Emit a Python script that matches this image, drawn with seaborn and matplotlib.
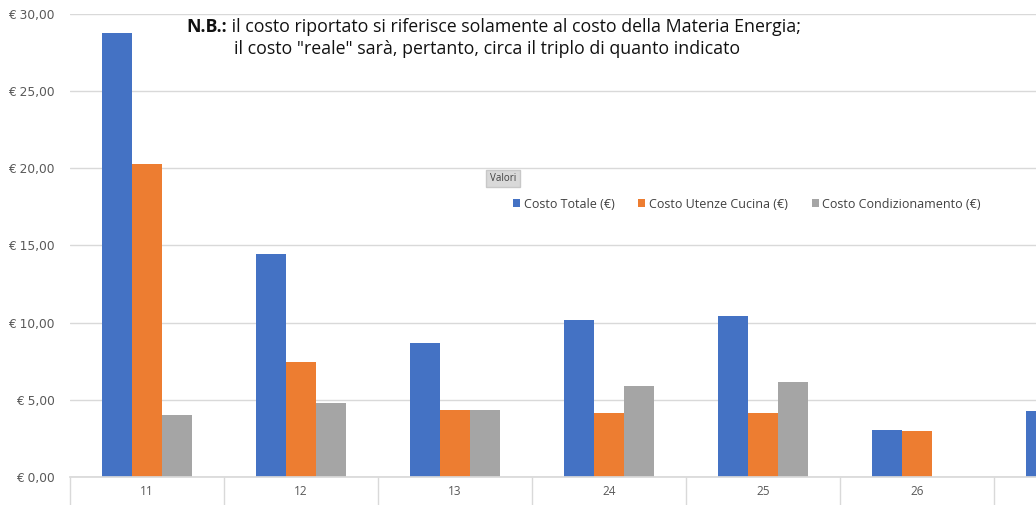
import numpy as np
import pandas as pd
import matplotlib
matplotlib.use("Agg")
import matplotlib.pyplot as plt
import seaborn as sns
from matplotlib.ticker import FuncFormatter

categories = ["11", "12", "13", "24", "25", "26", "27"]
costo_totale = [28.8, 14.45, 8.7, 10.2, 10.4, 3.05, 4.3]
costo_cucina = [20.25, 7.45, 4.35, 4.15, 4.15, 2.95, np.nan]
costo_condiz = [4.0, 4.8, 4.35, 5.9, 6.15, 0.0, np.nan]
series_names = ["Costo Totale (€)", "Costo Utenze Cucina (€)", "Costo Condizionamento (€)"]
colors = ["#4472C4", "#ED7D31", "#A5A5A5"]

rows = []
for name, vals in zip(series_names, [costo_totale, costo_cucina, costo_condiz]):
    for c, v in zip(categories, vals):
        rows.append({"Categoria": c, "Serie": name, "Valore": v})
df = pd.DataFrame(rows)

sns.set_theme(style="white")
plt.rcParams["font.family"] = ["Open Sans", "DejaVu Sans"]

fig = plt.figure(figsize=(10.36, 5.05), dpi=100)
W, H = 1036, 505
left_px, right_px, top_px, bot_px = 70, 1036, 14, 477
ax = fig.add_axes([left_px / W, 1 - bot_px / H, (right_px - left_px) / W, (bot_px - top_px) / H])

sns.barplot(data=df, x="Categoria", y="Valore", hue="Serie", order=categories,
            hue_order=series_names, palette=colors, width=0.58, saturation=1,
            errorbar=None, ax=ax, legend=True, linewidth=0)

ax.set_ylim(0, 30)
ax.set_yticks(np.arange(0, 31, 5))
ax.yaxis.set_major_formatter(FuncFormatter(lambda v, p: "€ " + f"{v:.2f}".replace(".", ",")))
ax.yaxis.grid(True, color="#D9D9D9", linewidth=1)
ax.set_axisbelow(True)
ax.set_xlabel("")
ax.set_ylabel("")
for s in ["top", "right", "left"]:
    ax.spines[s].set_visible(False)
ax.spines["bottom"].set_color("#D9D9D9")
ax.tick_params(axis="y", length=0, pad=11, labelsize=8.8, labelcolor="#595959")
for t in ax.get_yticklabels():
    t.set_fontfamily("DejaVu Sans")
ax.tick_params(axis="x", which="major", length=0, pad=6, labelsize=8.5, labelcolor="#595959")
ax.set_xticks(np.arange(-0.5, len(categories), 1), minor=True)
ax.tick_params(axis="x", which="minor", bottom=True, length=21, color="#D9D9D9", width=1)
slot = 154
ax.set_xlim(-0.5, -0.5 + (right_px - left_px) / slot)

handles, labels = ax.get_legend_handles_labels()
ax.legend(handles, labels, loc="center left", bbox_to_anchor=(502 / W, 1 - 204 / H),
          bbox_transform=fig.transFigure, ncol=3, frameon=False, fontsize=9,
          handlelength=0.55, handleheight=0.55, handletextpad=0.3, columnspacing=1.9,
          labelcolor="#404040")

fig.text(503 / W, 1 - 178.5 / H, "Valori", fontsize=7, color="#404040", ha="center", va="center",
         bbox=dict(facecolor="#D9D9D9", edgecolor="#C8C8C8", boxstyle="square,pad=0.35"))

fs = 12.8
t1 = fig.text(186 / W, 1 - 27 / H, "N.B.:", fontsize=fs, fontweight="bold", color="#111111",
              ha="left", va="center")
fig.canvas.draw()
bb = t1.get_window_extent()
fig.text(bb.x1 / W, 1 - 27 / H, " il costo riportato si riferisce solamente al costo della Materia Energia;",
         fontsize=fs, color="#111111", ha="left", va="center")
fig.text(487 / W, 1 - 49 / H, "il costo \"reale\" sarà, pertanto, circa il triplo di quanto indicato",
         fontsize=fs, color="#111111", ha="center", va="center")

fig.savefig("out.png", dpi=100)
